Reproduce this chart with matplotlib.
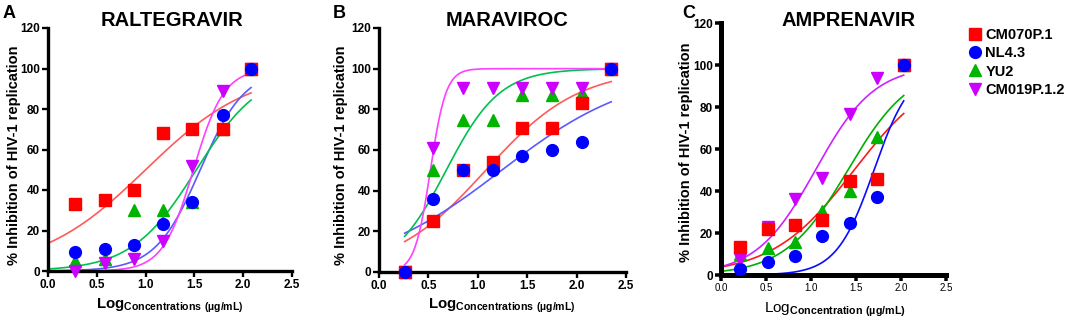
import numpy as np
import matplotlib
matplotlib.use("Agg")
import matplotlib.pyplot as plt

plt.rcParams['font.family'] = ['Liberation Sans', 'DejaVu Sans']
plt.rcParams['mathtext.fontset'] = 'custom'
plt.rcParams['mathtext.bf'] = 'Liberation Sans:bold'
plt.rcParams['mathtext.rm'] = 'Liberation Sans'

# series names (legend order)
strains = ["CM070P.1", "NL4.3", "YU2", "CM019P.1.2"]

# --- Panel A: RALTEGRAVIR ---
ral_x = [0.28, 0.58, 0.88, 1.18, 1.48, 1.79, 2.08]
ral_cm070 = [33, 35, 40, 68, 70, 70, 100]
ral_nl43 = [9.5, 11, 13, 23, 34, 77, 100]
ral_yu2 = [5, 6, 30, 30, 34, 70, 100]
ral_cm019 = [0, 4, 6, 15, 52, 89, 100]
# fitted curves (log EC50, hill slope) read from the plotted fits
ral_ec50 = [1.0, 1.56, 1.52, 1.49]
ral_hill = [0.8, 1.89, 1.31, 2.76]

# --- Panel B: MARAVIROC ---
mar_x = [0.26, 0.55, 0.85, 1.15, 1.45, 1.75, 2.05, 2.35]
mar_cm070 = [0, 25, 50, 54, 71, 71, 83, 100]
mar_nl43 = [0, 36, 50, 50, 57, 60, 64, 100]
mar_yu2 = [0, 50, 75, 75, 87, 87, 88, 100]
mar_cm019 = [0, 61, 90.5, 90.5, 90.5, 90.5, 90.5, 100]
mar_ec50 = [1.08, 1.24, 0.68, 0.52]
mar_hill = [0.92, 0.64, 1.6, 5.5]

# --- Panel C: AMPRENAVIR ---
amp_x = [0.21, 0.52, 0.82, 1.12, 1.43, 1.73, 2.03]
amp_cm070 = [13.5, 22, 24, 26, 44.6, 45.6, 100]
amp_nl43 = [3, 6, 9, 18.6, 25, 37, 100]
amp_yu2 = [10, 13, 15.7, 30.5, 40, 65.6, 100]
amp_cm019 = [7.5, 23, 36, 46, 76.7, 93.7, 100]
amp_ec50 = [1.48, 1.70, 1.41, 1.05]
amp_hill = [0.95, 2.08, 1.24, 1.32]

W, H = 1065, 325

marker_colors = ['#ff0000', '#0000ff', '#00b400', '#cc00ff']
markers = ['s', 'o', '^', 'v']
light_lines = ['#ff5a5a', '#5a5aff', '#00c050', '#ff40ff']
dark_lines = ['#ff1a1a', '#0a0aff', '#00b000', '#cc22ff']
# draw order: green, magenta, red, blue on top
draw_order = [2, 3, 0, 1]


def px_axes(left, right, top, bottom):
    return fig.add_axes([left / W, 1 - bottom / H, (right - left) / W, (bottom - top) / H])


def logistic(x, ec50, hill):
    return 100.0 / (1.0 + 10 ** ((ec50 - x) * hill))


def draw_panel(ax, x, series, ec50, hill, x_start, line_cols, spine_w, light_x=False):
    x_curve = np.linspace(x_start, x[-1], 200)
    for i in range(4):
        ax.plot(x_curve, logistic(x_curve, ec50[i], hill[i]), color=line_cols[i],
                lw=1.2, zorder=2)
    for i in draw_order:
        ax.plot(x, series[i], linestyle='none', marker=markers[i], ms=8.5,
                color=marker_colors[i], mec=marker_colors[i], clip_on=False,
                zorder=3 + draw_order.index(i), label=strains[i])
    ax.set_xlim(0, 2.5)
    ax.set_ylim(0, 120)
    ax.set_xticks([0.0, 0.5, 1.0, 1.5, 2.0, 2.5])
    ax.set_yticks(range(0, 121, 20))
    ax.set_xticklabels(['0.0', '0.5', '1.0', '1.5', '2.0', '2.5'])
    for side in ['top', 'right']:
        ax.spines[side].set_visible(False)
    for side in ['left', 'bottom']:
        ax.spines[side].set_linewidth(spine_w)
    ax.tick_params(width=spine_w * 0.7, length=4, pad=2)
    for lab in ax.get_yticklabels():
        lab.set_fontweight('bold')
        lab.set_fontsize(8.5)
    for lab in ax.get_xticklabels():
        lab.set_fontweight('normal' if light_x else 'bold')
        lab.set_fontsize(7 if light_x else 8.5)


fig = plt.figure(figsize=(W / 100, H / 100), dpi=100)

ax_a = px_axes(48, 292, 28, 271)
draw_panel(ax_a, ral_x, [ral_cm070, ral_nl43, ral_yu2, ral_cm019], ral_ec50, ral_hill,
           0.0, light_lines, 2.4)
ax_b = px_axes(379, 626, 28, 272)
draw_panel(ax_b, mar_x, [mar_cm070, mar_nl43, mar_yu2, mar_cm019], mar_ec50, mar_hill,
           mar_x[0], light_lines, 2.4)
ax_c = px_axes(721, 946, 23, 275)
draw_panel(ax_c, amp_x, [amp_cm070, amp_nl43, amp_yu2, amp_cm019], amp_ec50, amp_hill,
           0.0, dark_lines, 3.6, light_x=True)

# titles and panel letters
for xc, title in [(172, 'RALTEGRAVIR'), (507, 'MARAVIROC'), (849, 'AMPRENAVIR')]:
    fig.text(xc / W, 1 - 20 / H, title, ha='center', va='center',
             fontsize=14.5, fontweight='bold')
for xl, letter in [(3, 'A'), (333, 'B'), (682, 'C')]:
    fig.text(xl / W, 1 - 14 / H, letter, ha='left', va='center',
             fontsize=13, fontweight='bold')

# y labels
for xl, yc in [(14, 155), (341, 155), (686, 152)]:
    fig.text(xl / W, 1 - yc / H, '% Inhibition of HIV-1 replication', rotation=90,
             ha='center', va='center', fontsize=10.5, fontweight='bold')

# x labels
xlab_a = r'$\mathbf{Log}_{\mathbf{Concentrations\ (µg/mL)}}$'
xlab_c = r'$\mathrm{Log}_{\mathbf{Concentration\ (µg/mL)}}$'
for xc, yc, s, fs in [(170, 306, xlab_a, 10.8), (502, 306, xlab_a, 10.8),
                      (835, 310, xlab_c, 11)]:
    fig.text(xc / W, 1 - yc / H, s, ha='center', va='center', fontsize=fs)

# legend
handles, labels = ax_c.get_legend_handles_labels()
order = [labels.index(s) for s in strains]
fig.legend([handles[i] for i in order], [labels[i] for i in order],
           loc='upper left', bbox_to_anchor=(962 / W, 1 - 22 / H), frameon=False,
           prop={'weight': 'bold', 'size': 10.5}, handletextpad=0.2,
           labelspacing=0.3, handlelength=1.0, borderaxespad=0)

fig.savefig('out.png', dpi=100)
